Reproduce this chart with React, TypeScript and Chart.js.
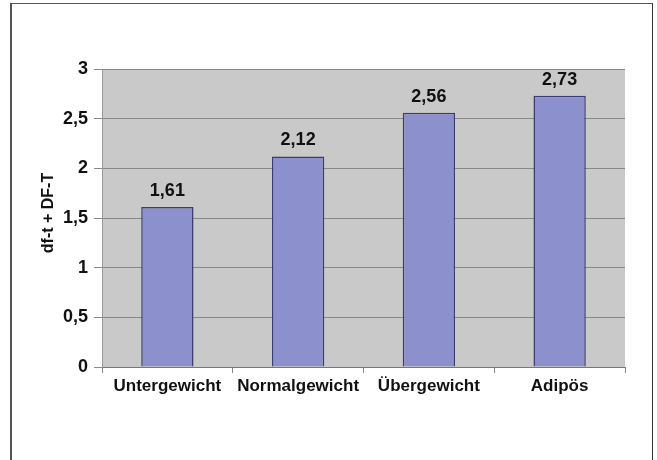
import React, { useEffect, useRef } from "react";
import { Chart, registerables } from "chart.js";

Chart.register(...registerables);

const categories = ["Untergewicht", "Normalgewicht", "Übergewicht", "Adipös"];
const values = [1.61, 2.12, 2.56, 2.73];
const valueLabels = ["1,61", "2,12", "2,56", "2,73"];
const yTitle = "df-t + DF-T";
const yMin = 0;
const yMax = 3;
const yStep = 0.5;

const FONT = "'Liberation Sans', Arial, sans-serif";

const decorPlugin = {
  id: "decor",
  beforeDraw(chart: any) {
    const { ctx, chartArea } = chart;
    ctx.save();
    ctx.fillStyle = "#c9c9c9";
    ctx.fillRect(chartArea.left, chartArea.top, chartArea.right - chartArea.left, chartArea.bottom - chartArea.top);
    ctx.restore();
  },
  afterDatasetsDraw(chart: any) {
    const { ctx, chartArea } = chart;
    const meta = chart.getDatasetMeta(0);
    ctx.save();
    ctx.font = `bold 18px ${FONT}`;
    ctx.fillStyle = "#111";
    ctx.textAlign = "center";
    ctx.textBaseline = "alphabetic";
    meta.data.forEach((bar: any, i: number) => {
      ctx.fillText(valueLabels[i], bar.x, bar.y - 11);
    });
    ctx.translate(49, (chartArea.top + chartArea.bottom) / 2 - 5);
    ctx.rotate(-Math.PI / 2);
    ctx.font = `bold 16px ${FONT}`;
    ctx.textBaseline = "middle";
    ctx.fillText(yTitle, 0, 0);
    ctx.restore();
  },
};

export default function App() {
  const ref = useRef<HTMLCanvasElement>(null);
  useEffect(() => {
    const chart = new Chart(ref.current!, {
      type: "bar",
      data: {
        labels: categories,
        datasets: [
          {
            data: values,
            backgroundColor: "#8c90cc",
            borderColor: "#3c3c6e",
            borderWidth: 1.5,
            categoryPercentage: 1,
            barPercentage: 0.4,
          },
        ],
      },
      options: {
        animation: false,
        responsive: false,
        devicePixelRatio: 1,
        layout: { padding: { left: 10, right: 32, top: 69, bottom: 53 } },
        plugins: { legend: { display: false }, tooltip: { enabled: false } },
        scales: {
          x: {
            afterFit: (s: any) => { s.height = 40; },
            grid: { display: true, drawOnChartArea: false, drawTicks: true, offset: true, tickLength: 6, color: "#888" },
            border: { display: true, color: "#777" },
            ticks: { color: "#111", font: { family: FONT, size: 17, weight: "bold" }, padding: 3, maxRotation: 0, autoSkip: false },
          },
          y: {
            min: yMin,
            max: yMax,
            afterFit: (s: any) => { s.width = 92; },
            grid: { color: "#888", tickLength: 8, tickColor: "#888" },
            border: { display: true, color: "#9a9a9a" },
            ticks: {
              stepSize: yStep,
              color: "#111",
              padding: 6,
              font: { family: FONT, size: 18, weight: "bold" },
              callback: (v: any) => String(v).replace(".", ","),
            },
          },
        },
      },
      plugins: [decorPlugin],
    });
    return () => chart.destroy();
  }, []);
  return (
    <div style={{ position: "absolute", left: 0, top: 0, width: 657, height: 460, background: "#fff", overflow: "hidden" }}>
      <div style={{ position: "absolute", left: 10, top: 3, width: 640, height: 470, borderLeft: "2px solid #555", borderTop: "1px solid #555", borderRight: "1px solid #333" }} />
      <canvas ref={ref} width={657} height={460} style={{ position: "absolute", left: 0, top: 0 }} />
    </div>
  );
}
